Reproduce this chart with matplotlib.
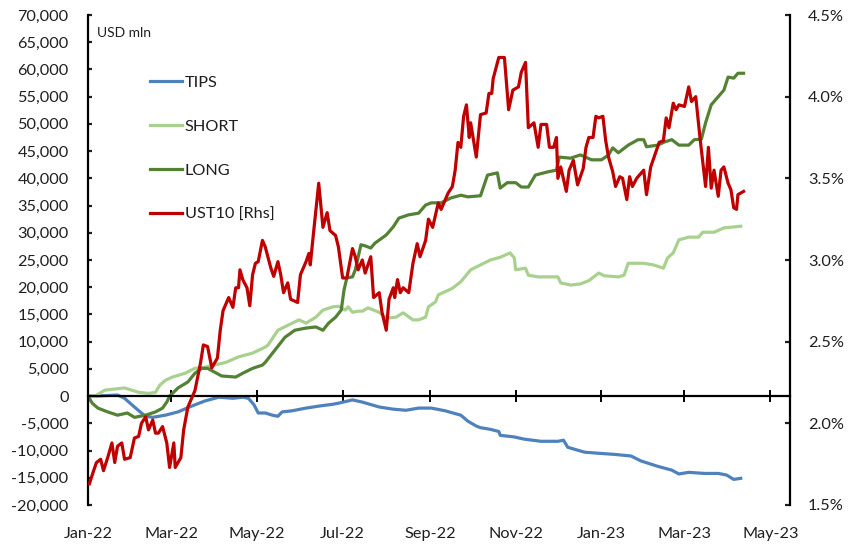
import numpy as np
import pandas as pd
import matplotlib
matplotlib.use("Agg")
import matplotlib.pyplot as plt
from matplotlib.ticker import FuncFormatter, MultipleLocator

plt.rcParams['font.family'] = ['Lato', 'DejaVu Sans']

START = "2022-01-01"

# ---- data (day offsets from 2022-01-01) ----
tips_day = [0, 5, 21, 26, 33, 38, 41, 46, 55, 64, 74, 83, 93, 103, 110, 114, 118, 121, 126, 131, 135, 138,
            145, 155, 165, 174, 178, 188, 195, 207, 217, 226, 235, 244, 254, 258, 265, 270, 276, 279, 286, 292,
            293, 303, 310, 322, 334, 338, 341, 353, 363, 374, 386, 393, 405, 415, 420, 427, 438, 448, 454, 459, 464]
tips_val = [0, 0, 200, -400, -2000, -3100, -3700, -3900, -3500, -2900, -1800, -900, -200, -400, -200, -400,
            -1600, -3100, -3100, -3500, -3700, -2900, -2700, -2200, -1800, -1500, -1300, -700, -1100, -2000,
            -2400, -2600, -2200, -2200, -2700, -3000, -3500, -4600, -5500, -5800, -6100, -6500, -7200, -7500,
            -7900, -8300, -8300, -8100, -9400, -10300, -10500, -10700, -11000, -11900, -12900, -13600, -14300,
            -14000, -14200, -14200, -14500, -15300, -15100]

short_day = [0, 5, 12, 26, 31, 36, 43, 48, 51, 55, 60, 69, 76, 83, 90, 98, 107, 117, 126, 128, 135, 142, 150,
             155, 162, 167, 174, 178, 183, 185, 188, 192, 195, 199, 207, 212, 219, 224, 231, 235, 240, 242, 247,
             249, 259, 265, 272, 279, 286, 293, 300, 303, 304, 311, 313, 320, 327, 334, 336, 343, 350, 356, 361,
             363, 367, 377, 381, 384, 395, 402, 409, 412, 416, 420, 427, 434, 437, 445, 452, 464]
short_val = [0, 0, 1100, 1500, 1100, 700, 500, 700, 2000, 2900, 3500, 4200, 5100, 5300, 5700, 6200, 7200, 7900,
             9000, 9400, 12100, 13000, 14000, 13400, 14500, 15800, 16400, 16500, 15800, 16400, 15400, 15600,
             15600, 16200, 15400, 14300, 14500, 15300, 14000, 14000, 14500, 16400, 17300, 18600, 19800, 21000,
             23200, 24100, 25000, 25500, 26300, 25400, 23200, 23500, 22200, 21900, 21900, 21900, 20800, 20400,
             20600, 21200, 22200, 22600, 22100, 21900, 22200, 24400, 24400, 24100, 23500, 25400, 26300, 28700,
             29200, 29200, 30100, 30100, 30900, 31200]

long_day = [0, 3, 7, 14, 21, 28, 33, 41, 48, 53, 56, 58, 64, 71, 76, 81, 85, 90, 95, 105, 110, 117, 124, 126,
            133, 140, 147, 155, 162, 167, 171, 176, 180, 182, 184, 188, 190, 194, 197, 201, 204, 212, 217, 221,
            228, 235, 240, 244, 251, 258, 265, 270, 279, 284, 291, 293, 298, 304, 308, 313, 318, 327, 333, 335,
            343, 350, 358, 365, 370, 373, 377, 384, 391, 395, 397, 405, 410, 415, 420, 427, 431, 436, 439, 443,
            448, 452, 455, 459, 462, 466]
long_val = [0, -1300, -2200, -2900, -3500, -3100, -3900, -3500, -2900, -2200, -1100, 0, 1500, 2600, 4200, 5100,
            5100, 4400, 3700, 3500, 4200, 5100, 5700, 6200, 8500, 10800, 12100, 12500, 12700, 12100, 13400, 14500,
            15800, 19500, 21700, 21900, 23200, 27800, 27600, 27200, 28100, 29600, 31100, 32700, 33300, 33600,
            35100, 35500, 35500, 36400, 36900, 36600, 36800, 40600, 41000, 38200, 39200, 39200, 38400, 38400,
            40600, 41200, 41500, 43900, 43700, 44300, 43400, 43400, 44300, 45600, 44700, 46100, 47100, 47100,
            45800, 46100, 46700, 47100, 46100, 46100, 47100, 47200, 50200, 53500, 55000, 56200, 58600, 58400,
            59300, 59300]

ust_day = [1, 4, 6, 9, 11, 14, 17, 19, 21, 24, 26, 30, 33, 36, 38, 41, 43, 46, 48, 50, 53, 56, 58, 61, 62, 66,
           68, 71, 76, 80, 82, 85, 88, 92, 94, 96, 100, 103, 105, 107, 108, 110, 113, 115, 117, 119, 121, 124,
           126, 130, 132, 135, 137, 139, 142, 144, 149, 151, 155, 157, 158, 160, 164, 167, 170, 172, 176, 178,
           181, 184, 188, 190, 192, 195, 197, 201, 203, 207, 209, 212, 214, 217, 218, 220, 222, 224, 228, 231,
           234, 236, 240, 242, 245, 249, 251, 256, 259, 261, 263, 265, 267, 269, 271, 272, 276, 279, 283, 285,
           287, 288, 292, 296, 299, 302, 306, 308, 311, 313, 317, 320, 322, 326, 328, 331, 333, 334, 336, 340,
           342, 345, 348, 352, 354, 356, 359, 361, 363, 366, 368, 370, 373, 375, 378, 380, 383, 385, 387, 390,
           393, 395, 397, 400, 404, 406, 409, 411, 413, 416, 418, 420, 424, 427, 429, 432, 435, 437, 439, 441,
           443, 445, 448, 450, 452, 455, 457, 459, 461, 462, 466]
ust_val = [1.63, 1.71, 1.76, 1.78, 1.71, 1.79, 1.88, 1.76, 1.86, 1.88, 1.78, 1.79, 1.91, 1.92, 2.00, 2.04,
           1.96, 2.02, 1.94, 1.94, 1.98, 1.88, 1.73, 1.88, 1.73, 1.79, 1.96, 2.10, 2.20, 2.37, 2.48, 2.47, 2.34,
           2.40, 2.57, 2.69, 2.77, 2.71, 2.83, 2.83, 2.94, 2.88, 2.83, 2.72, 2.91, 2.98, 2.99, 3.12, 3.08, 2.95,
           2.90, 2.99, 2.91, 2.80, 2.86, 2.76, 2.74, 2.91, 2.99, 3.04, 2.97, 3.14, 3.47, 3.20, 3.29, 3.18, 3.15,
           3.08, 2.89, 2.89, 3.07, 3.02, 2.94, 3.00, 2.92, 3.02, 2.77, 2.80, 2.68, 2.57, 2.76, 2.83, 2.77, 2.88,
           2.80, 2.83, 2.80, 2.98, 3.10, 3.02, 3.12, 3.25, 3.20, 3.35, 3.31, 3.41, 3.45, 3.55, 3.72, 3.69, 3.88,
           3.95, 3.75, 3.84, 3.63, 3.89, 3.90, 4.02, 4.02, 4.11, 4.24, 4.24, 3.92, 4.04, 4.06, 4.15, 4.21, 3.81,
           3.84, 3.69, 3.83, 3.83, 3.69, 3.69, 3.75, 3.50, 3.57, 3.42, 3.55, 3.61, 3.46, 3.56, 3.69, 3.75, 3.75,
           3.88, 3.87, 3.88, 3.73, 3.63, 3.54, 3.45, 3.51, 3.50, 3.37, 3.51, 3.45, 3.50, 3.53, 3.55, 3.40, 3.57,
           3.67, 3.72, 3.73, 3.87, 3.81, 3.96, 3.92, 3.95, 3.94, 4.06, 3.97, 4.00, 3.75, 3.60, 3.45, 3.69, 3.44,
           3.55, 3.39, 3.55, 3.57, 3.47, 3.43, 3.32, 3.31, 3.40, 3.42]

series_labels = ["TIPS", "SHORT", "LONG", "UST10 [Rhs]"]
x_tick_dates = ["2022-01-01", "2022-03-01", "2022-05-01", "2022-07-01", "2022-09-01", "2022-11-01",
                "2023-01-01", "2023-03-01", "2023-05-01"]
x_tick_labels = ["Jan-22", "Mar-22", "May-22", "Jul-22", "Sep-22", "Nov-22", "Jan-23", "Mar-23", "May-23"]


def to_dates(days):
    return pd.Timestamp(START) + pd.to_timedelta(np.asarray(days), unit="D")


C_TIPS = "#4F81BD"
C_SHORT = "#A9D18E"
C_LONG = "#548235"
C_UST = "#C00000"
TXT = "#1f1f1f"
LW = 2.3

fig = plt.figure(figsize=(8.48, 5.46), dpi=100)
ax = fig.add_axes([88 / 848, 41 / 546, 702 / 848, 490 / 546])
ax2 = ax.twinx()

l1, = ax.plot(to_dates(tips_day), tips_val, color=C_TIPS, lw=LW, label=series_labels[0])
l2, = ax.plot(to_dates(short_day), short_val, color=C_SHORT, lw=LW, label=series_labels[1])
l3, = ax.plot(to_dates(long_day), long_val, color=C_LONG, lw=LW, label=series_labels[2])
l4, = ax2.plot(to_dates(ust_day), ust_val, color=C_UST, lw=LW, label=series_labels[3])

ax.set_xlim(pd.Timestamp("2022-01-01"), pd.Timestamp("2023-05-15"))
ax.set_ylim(-20000, 70000)
ax2.set_ylim(1.5, 4.5)

ax.yaxis.set_major_locator(MultipleLocator(5000))
ax.yaxis.set_major_formatter(FuncFormatter(lambda v, p: f"{v:,.0f}"))
ax2.yaxis.set_major_locator(MultipleLocator(0.5))
ax2.yaxis.set_major_formatter(FuncFormatter(lambda v, p: f"{v:.1f}%"))

FS = 11.7
ax.spines["top"].set_visible(False)
ax2.spines["top"].set_visible(False)
ax2.spines["bottom"].set_visible(False)
ax2.spines["left"].set_visible(False)
ax.spines["right"].set_visible(False)
ax.spines["left"].set_linewidth(1.6)
ax2.spines["right"].set_linewidth(1.6)
ax.spines["bottom"].set_position(("data", 0))
ax.spines["bottom"].set_linewidth(1.6)

ax.tick_params(axis="y", direction="in", length=3, width=1.6, pad=14, labelsize=FS, colors=TXT)
ax2.tick_params(axis="y", direction="in", length=3.5, width=1.6, pad=13, labelsize=FS, colors=TXT)
ax.tick_params(axis="x", direction="inout", length=9, width=1.4, labelbottom=False)

ticks = pd.to_datetime(x_tick_dates)
ax.set_xticks(ticks)
for t, lab in zip(ticks, x_tick_labels):
    ax.text(t, -0.059, lab, transform=ax.get_xaxis_transform(), ha="center", va="center",
            fontsize=FS, color=TXT)

ax.text(0.013, 0.963, "USD mln", transform=ax.transAxes, ha="left", va="center", fontsize=10,
        color=TXT)

leg = ax2.legend([l1, l2, l3, l4], series_labels, loc="upper left", bbox_to_anchor=(0.088, 0.877),
                 frameon=False, fontsize=FS, handlelength=2.0, handletextpad=0.15, labelspacing=1.83,
                 borderpad=0, borderaxespad=0)
for t in leg.get_texts():
    t.set_color(TXT)

fig.savefig("out.png", dpi=100)
